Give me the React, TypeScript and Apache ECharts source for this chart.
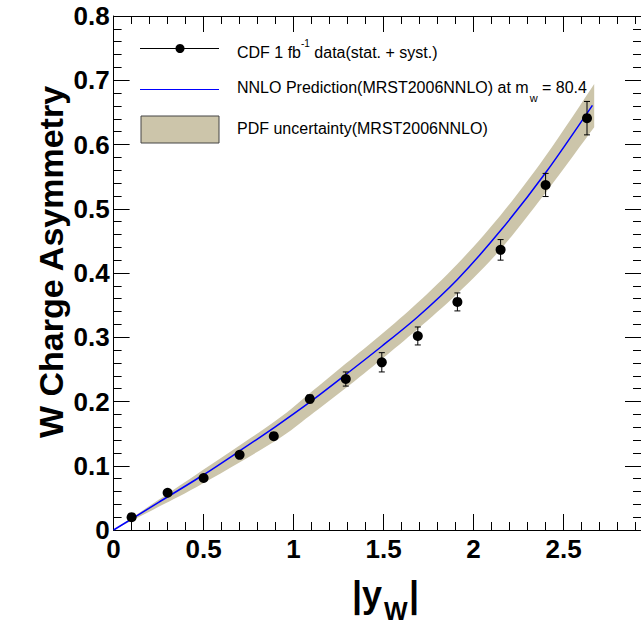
import React, { useEffect, useRef } from "react";
import * as echarts from "echarts";

// CDF data points
const dataX = [0.1, 0.3, 0.5, 0.7, 0.89, 1.09, 1.29, 1.49, 1.69, 1.91, 2.15, 2.4, 2.63];
const dataY = [0.02, 0.058, 0.081, 0.117, 0.146, 0.204, 0.235, 0.261, 0.302, 0.355, 0.436, 0.537, 0.641];
const dataErr = [0.004, 0.004, 0.004, 0.005, 0.005, 0.006, 0.011, 0.015, 0.014, 0.014, 0.016, 0.018, 0.026];

// NNLO prediction curve
const theoryX = [0, 0.25, 0.5, 0.7, 0.9, 1.09, 1.29, 1.49, 1.69, 1.91, 2.15, 2.4, 2.66];
const theoryY = [0, 0.043, 0.086, 0.123, 0.161, 0.199, 0.242, 0.286, 0.332, 0.39, 0.466, 0.556, 0.661];

// PDF uncertainty band
const bandX = [0, 0.25, 0.5, 0.9, 1.09, 1.29, 1.49, 1.69, 1.91, 2.15, 2.4, 2.67];
const bandUpper = [0, 0.047, 0.094, 0.17, 0.213, 0.259, 0.305, 0.354, 0.414, 0.49, 0.582, 0.694];
const bandLower = [0, 0.036, 0.073, 0.139, 0.178, 0.221, 0.266, 0.313, 0.368, 0.437, 0.525, 0.627];

const legend1 = "{m|CDF 1 fb}{sup|-1}{m| data(stat. + syst.)}";
const legend2a = "NNLO Prediction(MRST2006NNLO) at m";
const legend2sub = "w";
const legend2b = " = 80.4";
const legend3 = "PDF uncertainty(MRST2006NNLO)";

const FONT = "Liberation Sans";
const BAND = "#ccc5aa";

function measure(s: string, size: number, weight = "normal") {
  const c = document.createElement("canvas").getContext("2d");
  if (!c) return s.length * size * 0.5;
  c.font = `${weight} ${size}px "${FONT}"`;
  return c.measureText(s).width;
}

// Catmull-Rom smoothing of a pixel-space polyline (rendering only)
function smoothPath(pts: number[][], steps = 8): number[][] {
  const out: number[][] = [];
  const n = pts.length;
  for (let i = 0; i < n - 1; i++) {
    const p0 = pts[Math.max(0, i - 1)];
    const p1 = pts[i];
    const p2 = pts[i + 1];
    const p3 = pts[Math.min(n - 1, i + 2)];
    for (let s = 0; s < steps; s++) {
      const t = s / steps;
      const t2 = t * t;
      const t3 = t2 * t;
      const f = (k: number) =>
        0.5 *
        (2 * p1[k] +
          (-p0[k] + p2[k]) * t +
          (2 * p0[k] - 5 * p1[k] + 4 * p2[k] - p3[k]) * t2 +
          (-p0[k] + 3 * p1[k] - 3 * p2[k] + p3[k]) * t3);
      out.push([f(0), f(1)]);
    }
  }
  out.push(pts[n - 1]);
  return out;
}

export default function App() {
  const ref = useRef<HTMLDivElement>(null);
  useEffect(() => {
    document.body.style.margin = "0";
    const chart = echarts.init(ref.current!, null, { renderer: "svg" });
    const X_MAX = 2.93;
    const tickColor = "#000";
    const majorX = (pos: string, labels: boolean) => ({
      type: "value",
      position: pos,
      min: 0,
      max: X_MAX,
      interval: 0.5,
      axisLine: { show: true, onZero: false, lineStyle: { color: "#000", width: 1 } },
      axisTick: { show: true, inside: true, length: 16, lineStyle: { color: tickColor } },
      minorTick: { show: false },
      splitLine: { show: false },
      axisLabel: {
        show: labels,
        fontSize: 26,
        fontWeight: "bold",
        fontFamily: FONT,
        color: "#000",
        margin: 6,
        showMaxLabel: false,
      },
    });
    const minorX = (pos: string) => ({
      type: "value",
      position: pos,
      min: 0,
      max: X_MAX,
      interval: 0.1,
      axisLine: { show: false, onZero: false },
      axisTick: { show: true, inside: true, length: 8, lineStyle: { color: tickColor } },
      splitLine: { show: false },
      axisLabel: { show: false },
    });
    const yAx = (pos: string, labels: boolean) => ({
      type: "value",
      position: pos,
      min: 0,
      max: 0.8,
      interval: 0.1,
      axisLine: { show: true, onZero: false, lineStyle: { color: "#000", width: 1 } },
      axisTick: { show: true, inside: true, length: 16, lineStyle: { color: tickColor } },
      minorTick: { show: true, splitNumber: 5, length: 8, lineStyle: { color: tickColor } },
      splitLine: { show: false },
      axisLabel: {
        show: labels,
        fontSize: 26,
        fontWeight: "bold",
        fontFamily: FONT,
        color: "#000",
        margin: 4,
      },
    });

    const w2a = measure(legend2a, 16);
    const wSub = measure(legend2sub, 11);

    const option: any = {
      animation: false,
      backgroundColor: "#fff",
      grid: { left: 113.6, top: 16, width: 539.4, height: 514, containLabel: false },
      xAxis: [majorX("bottom", true), minorX("bottom"), majorX("top", false), minorX("top")],
      yAxis: [yAx("left", true), yAx("right", false)],
      series: [
        {
          type: "custom",
          name: "PDF uncertainty(MRST2006NNLO)",
          xAxisIndex: 0,
          yAxisIndex: 0,
          silent: true,
          z: 1,
          data: [[0, 0]],
          renderItem: (params: any, api: any) => {
            const up = smoothPath(bandX.map((x, i) => api.coord([x, bandUpper[i]])));
            const lo = smoothPath(bandX.map((x, i) => api.coord([x, bandLower[i]])));
            return {
              type: "polygon",
              shape: { points: up.concat(lo.reverse()) },
              style: { fill: BAND },
            };
          },
        },
        {
          type: "line",
          name: "NNLO Prediction",
          xAxisIndex: 0,
          yAxisIndex: 0,
          z: 2,
          smooth: 0.3,
          symbol: "none",
          lineStyle: { color: "#0000ff", width: 1.5 },
          data: theoryX.map((x, i) => [x, theoryY[i]]),
        },
        {
          type: "custom",
          name: "errors",
          xAxisIndex: 0,
          yAxisIndex: 0,
          z: 3,
          silent: true,
          encode: { x: 0, y: 1 },
          data: dataX.map((x, i) => [x, dataY[i], dataErr[i]]),
          renderItem: (params: any, api: any) => {
            const x = api.value(0);
            const y = api.value(1);
            const e = api.value(2);
            const t = api.coord([x, y + e]);
            const b = api.coord([x, y - e]);
            const cw = 3;
            const st = { stroke: "#000", lineWidth: 1 };
            return {
              type: "group",
              children: [
                { type: "line", shape: { x1: t[0], y1: t[1], x2: b[0], y2: b[1] }, style: st },
                { type: "line", shape: { x1: t[0] - cw, y1: t[1], x2: t[0] + cw, y2: t[1] }, style: st },
                { type: "line", shape: { x1: b[0] - cw, y1: b[1], x2: b[0] + cw, y2: b[1] }, style: st },
              ],
            };
          },
        },
        {
          type: "scatter",
          name: "CDF data",
          xAxisIndex: 0,
          yAxisIndex: 0,
          z: 4,
          symbol: "circle",
          symbolSize: 10,
          itemStyle: { color: "#000", opacity: 1 },
          data: dataX.map((x, i) => [x, dataY[i]]),
        },
      ],
      graphic: [
        // legend row 1
        { type: "line", shape: { x1: 140, y1: 48.5, x2: 219, y2: 48.5 }, style: { stroke: "#000", lineWidth: 1 }, z: 10 },
        { type: "circle", shape: { cx: 180, cy: 48.5, r: 4.5 }, style: { fill: "#000" }, z: 10 },
        {
          type: "text",
          x: 237,
          y: 49,
          z: 10,
          style: {
            text: legend1,
            verticalAlign: "middle",
            align: "left",
            fill: "#000",
            rich: {
              m: { fontSize: 16, fontFamily: FONT, lineHeight: 22, verticalAlign: "bottom", fill: "#000" },
              sup: { fontSize: 10, fontFamily: FONT, lineHeight: 10, verticalAlign: "top", fill: "#000" },
            },
          },
        },
        // legend row 2
        { type: "line", shape: { x1: 140, y1: 89.5, x2: 219, y2: 89.5 }, style: { stroke: "#0000ff", lineWidth: 1.2 }, z: 10 },
        {
          type: "text",
          x: 237,
          y: 87,
          z: 10,
          style: { text: legend2a, fontSize: 16, fontFamily: FONT, fill: "#000", verticalAlign: "middle", align: "left" },
        },
        {
          type: "text",
          x: 237 + w2a + 1,
          y: 98,
          z: 10,
          style: { text: legend2sub, fontSize: 11, fontFamily: FONT, fill: "#000", verticalAlign: "middle", align: "left" },
        },
        {
          type: "text",
          x: 237 + w2a + 1 + wSub,
          y: 87,
          z: 10,
          style: { text: legend2b, fontSize: 16, fontFamily: FONT, fill: "#000", verticalAlign: "middle", align: "left" },
        },
        // legend row 3
        { type: "rect", shape: { x: 141, y: 116, width: 78, height: 27 }, style: { fill: BAND, stroke: "#444", lineWidth: 1 }, z: 10 },
        {
          type: "text",
          x: 237,
          y: 128,
          z: 10,
          style: { text: legend3, fontSize: 16, fontFamily: FONT, fill: "#000", verticalAlign: "middle", align: "left" },
        },
        // y axis title
        {
          type: "text",
          x: 51,
          y: 262,
          rotation: Math.PI / 2,
          z: 10,
          style: {
            text: "W Charge Asymmetry",
            fontSize: 34,
            fontWeight: "bold",
            fontFamily: FONT,
            fill: "#000",
            align: "center",
            verticalAlign: "middle",
          },
        },
        // x axis title |y_W|
        {
          type: "text",
          x: 352,
          y: 594,
          z: 10,
          style: { text: "|y", fontSize: 36, fontWeight: "bold", fontFamily: FONT, fill: "#000", align: "left", verticalAlign: "middle" },
        },
        {
          type: "text",
          x: 384,
          y: 611,
          z: 10,
          style: { text: "W", fontSize: 25, fontWeight: "bold", fontFamily: FONT, fill: "#000", align: "left", verticalAlign: "middle" },
        },
        {
          type: "text",
          x: 409,
          y: 594,
          z: 10,
          style: { text: "|", fontSize: 36, fontWeight: "bold", fontFamily: FONT, fill: "#000", align: "left", verticalAlign: "middle" },
        },
      ],
    };
    chart.setOption(option);
    return () => chart.dispose();
  }, []);
  return <div ref={ref} style={{ width: 641, height: 624 }} />;
}
